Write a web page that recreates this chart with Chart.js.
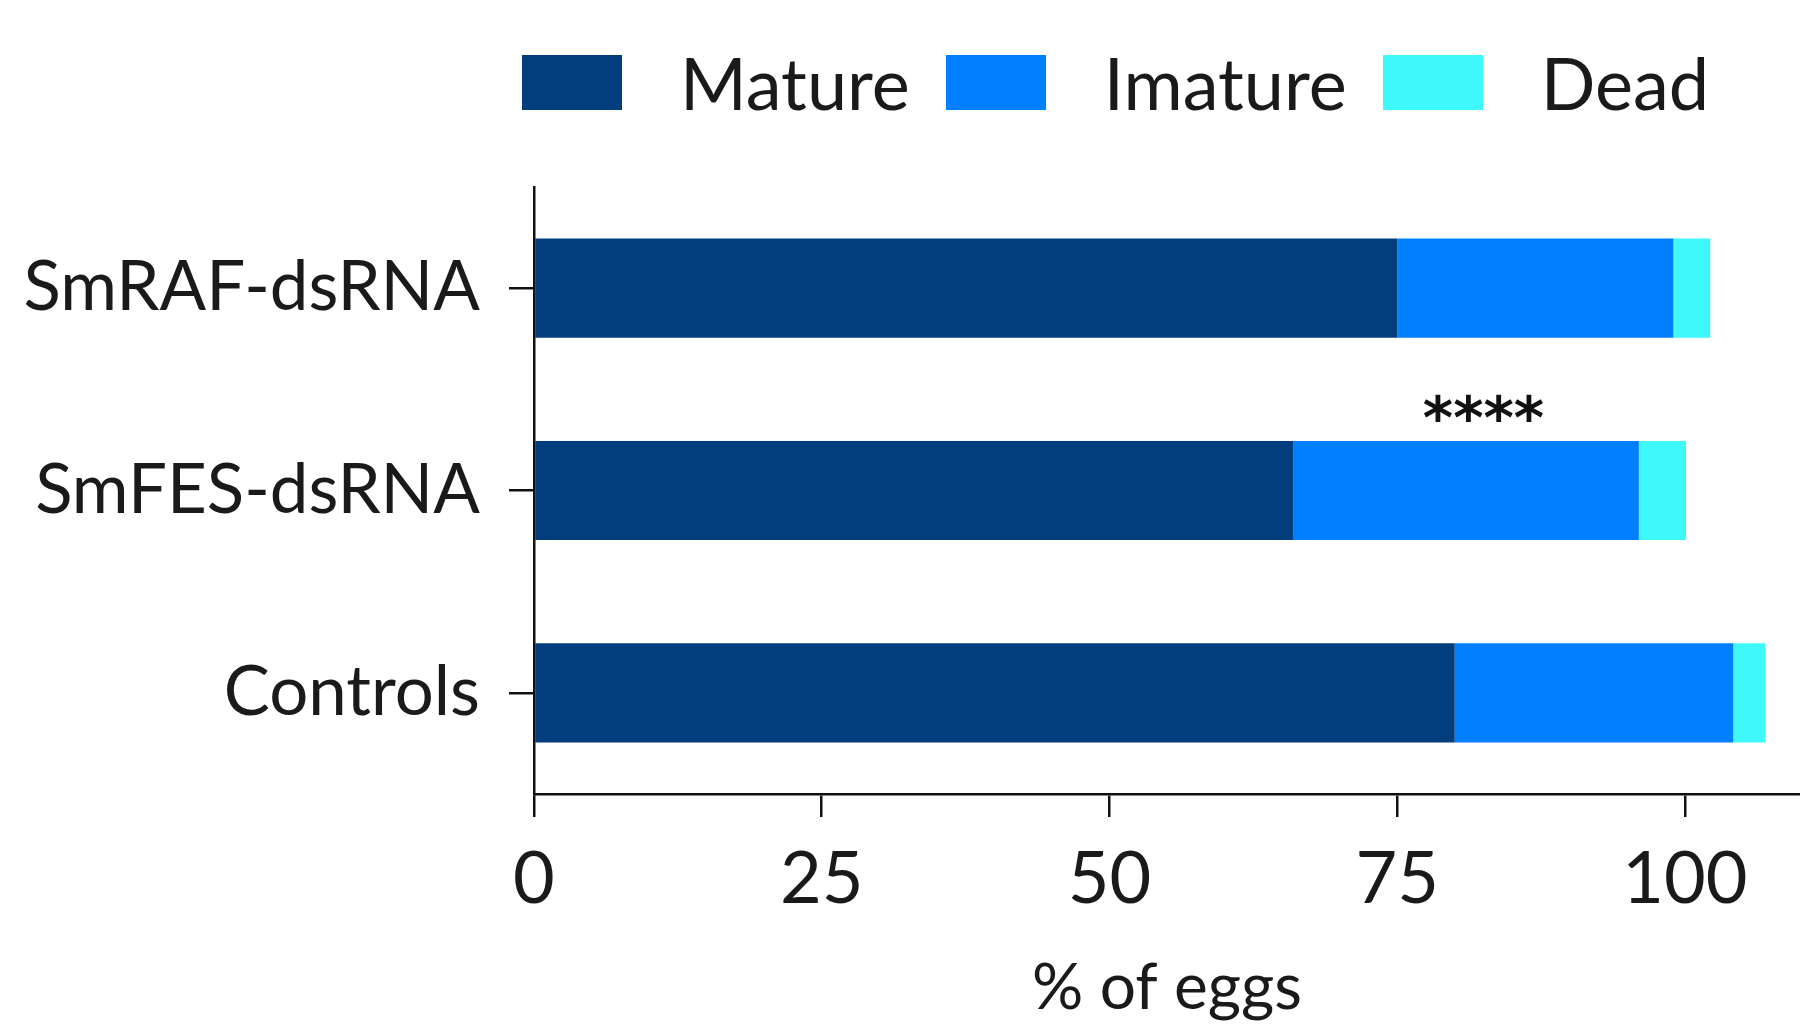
<!DOCTYPE html>
<html>
<head>
<meta charset="utf-8">
<title>% of eggs</title>
<script src="https://cdn.jsdelivr.net/npm/chart.js@4.4.1/dist/chart.umd.min.js"></script>
<style>
  html, body { margin: 0; padding: 0; background: #fff; }
  #wrap { position: relative; width: 1800px; height: 1029px; }
  #legend { position: absolute; left: 522px; top: 55px; display: flex; align-items: center;
            font-family: Lato, "Open Sans", sans-serif; font-size: 72px; color: #1a1a1a; line-height: 55px; }
  #legend .item { display: flex; align-items: center; margin-right: 36px; }
  #legend .box { width: 100px; height: 55px; margin-right: 58px; }
</style>
</head>
<body>
<div id="wrap">
  <canvas id="eggs"></canvas>
  <div id="legend"></div>
</div>
<script>
// ── Egg maturation after dsRNA knockdown ──
// stacked horizontal bars, % of eggs per group

const categories = ['SmRAF-dsRNA', 'SmFES-dsRNA', 'Controls'];
const mature   = [75, 66, 80];
const imature  = [24, 30, 24.2];
const dead     = [3.2, 4.1, 2.8];
const xTicks   = [0, 25, 50, 75, 100];

const seriesNames  = ['Mature', 'Imature', 'Dead'];
const seriesColors = ['#023e7d', '#0080ff', '#3ff8fb'];

// significance marker over SmFES bar
const sigText = '****';
const sigIndex = 1;
const sigValue = 82.5;

const fontFamily = 'Lato, "Open Sans", sans-serif';

// legend drawn as html so box/text spacing matches the figure
const legendEl = document.getElementById('legend');
seriesNames.forEach((name, i) => {
  const item = document.createElement('div');
  item.className = 'item';
  const box = document.createElement('span');
  box.className = 'box';
  box.style.background = seriesColors[i];
  const label = document.createElement('span');
  label.textContent = name;
  item.appendChild(box);
  item.appendChild(label);
  legendEl.appendChild(item);
});

const sigMarker = {
  id: 'sigMarker',
  afterDatasetsDraw(chart) {
    const { ctx, scales } = chart;
    const bar = chart.getDatasetMeta(0).data[sigIndex];
    const x = scales.x.getPixelForValue(sigValue);
    const target = bar.y - bar.height / 2 - 33;
    ctx.save();
    ctx.font = 'bold 58px "DejaVu Sans", sans-serif';
    ctx.fillStyle = '#111';
    ctx.textAlign = 'center';
    ctx.textBaseline = 'alphabetic';
    const m = ctx.measureText(sigText);
    const baseline = target - (m.actualBoundingBoxDescent - m.actualBoundingBoxAscent) / 2;
    ctx.fillText(sigText, x, baseline);
    ctx.restore();
  }
};

const datasets = [mature, imature, dead].map((vals, i) => ({
  label: seriesNames[i],
  data: vals,
  backgroundColor: seriesColors[i],
  borderWidth: 0,
  categoryPercentage: 1,
  barPercentage: 0.49
}));

new Chart(document.getElementById('eggs'), {
  type: 'bar',
  data: { labels: categories, datasets },
  options: {
    indexAxis: 'y',
    responsive: true, maintainAspectRatio: false,
    animation: false,
    layout: { padding: { top: 187, right: 0, bottom: 0, left: 0 } },
    plugins: { legend: { display: false }, tooltip: { enabled: false } },
    scales: {
      x: {
        stacked: true, min: 0, max: 110,
        afterBuildTicks: s => { s.ticks = xTicks.map(v => ({ value: v })); },
        afterFit: s => { s.height = 235; },
        border: { color: '#111', width: 2.5 },
        grid: { drawOnChartArea: false, color: '#111', lineWidth: 2.5, tickLength: 23 },
        ticks: { color: '#1a1a1a', padding: 20, font: { family: fontFamily, size: 72 } },
        title: {
          display: true, text: '% of eggs', color: '#1a1a1a',
          padding: { top: 0, bottom: 2 },
          font: { family: fontFamily, size: 64 }
        }
      },
      y: {
        stacked: true,
        afterFit: s => { s.width = 534; },
        border: { color: '#111', width: 2.5 },
        grid: { offset: false, drawOnChartArea: false, color: '#111', lineWidth: 2.5, tickLength: 25 },
        ticks: { color: '#1a1a1a', padding: 29, font: { family: fontFamily, size: 69 } }
      }
    }
  },
  plugins: [sigMarker]
});
</script>
</body>
</html>
